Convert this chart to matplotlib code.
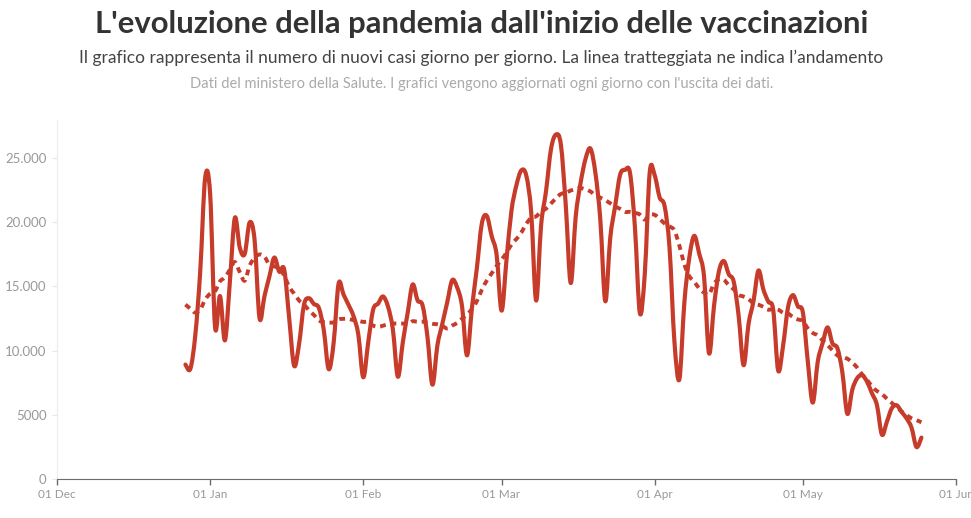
import numpy as np
import pandas as pd
import matplotlib
matplotlib.use('agg')
import matplotlib.pyplot as plt
import matplotlib.dates as mdates
from matplotlib.path import Path
from matplotlib.patches import PathPatch

# Nuovi casi giornalieri, dal 27 dicembre 2020 al 25 maggio 2021
primo_giorno = '2020-12-27'
casi_dic = [8913, 8585, 11212, 16202, 23477]
casi_gen = [22211, 11831, 14245, 10800, 15378, 20331, 18020, 17533, 19978,
            18627, 12532, 14242, 15774, 17246, 16146, 16310, 12545, 8825,
            10497, 13571, 14078, 13633, 13331, 11629, 8561, 10593, 15204,
            14372, 13574, 12715, 11252]
casi_feb = [7925, 10630, 13189, 13659, 14218, 13442, 11641, 7970, 10630,
            12956, 15146, 13908, 13532, 11068, 7351, 10386, 12074, 13762,
            15479, 14931, 13452, 9630, 13314, 16424, 19886, 20499, 18916,
            17455]
casi_mar = [13114, 17083, 20884, 22865, 24036, 23641, 20765, 13902, 19749,
            22409, 25673, 26824, 26062, 21315, 15267, 20396, 23059, 24935,
            25735, 23832, 20159, 13846, 18765, 21267, 23696, 24076, 23839,
            19611, 12916, 16017, 23904]
casi_apr = [23649, 21932, 21261, 18025, 10680, 7767, 13708, 17221, 18938,
            17567, 15746, 9789, 13447, 16168, 16974, 15943, 15370, 12694,
            8864, 12074, 13844, 16232, 14761, 13817, 13158, 8444, 10404,
            13385, 14320, 13446]
casi_mag = [12965, 9148, 5948, 9116, 10585, 11807, 10554, 10176, 8292, 5080,
            6946, 7852, 8085, 7567, 6659, 5753, 3455, 4452, 5506, 5741, 5218,
            4717, 3995, 2490, 3224]
# sei giorni prima del grafico, usati solo per la media mobile
casi_prima = [10872, 13318, 14522, 18040, 19037, 10407]

tick_x = ['2020-12-01', '2021-01-01', '2021-02-01', '2021-03-01',
          '2021-04-01', '2021-05-01', '2021-06-01']
etichette_x = ['01 Dec', '01 Jan', '01 Feb', '01 Mar', '01 Apr', '01 May',
               '01 Jun']
tick_y = [0, 5000, 10000, 15000, 20000, 25000]
etichette_y = ['0', '5000', '10.000', '15.000', '20.000', '25.000']

ROSSO = '#c73b2b'


def curva_liscia(x, y):
    # Catmull-Rom trasformata in segmenti di Bezier cubiche
    p = np.column_stack([x, y])
    pe = np.vstack([p[0], p, p[-1]])
    verts = [p[0]]
    codes = [Path.MOVETO]
    for i in range(len(p) - 1):
        p0, p1, p2, p3 = pe[i], pe[i + 1], pe[i + 2], pe[i + 3]
        verts += [p1 + (p2 - p0) / 6, p2 - (p3 - p1) / 6, p2]
        codes += [Path.CURVE4] * 3
    return Path(verts, codes)


casi = casi_dic + casi_gen + casi_feb + casi_mar + casi_apr + casi_mag
giorni = pd.date_range(primo_giorno, periods=len(casi), freq='D')
media = pd.Series(casi_prima + casi).rolling(7).mean().to_numpy()[6:]
x = mdates.date2num(giorni)

fig = plt.figure(figsize=(9.71, 5.18), dpi=100)
ax = fig.add_axes((57 / 971, 1 - 479 / 518, 899 / 971, 359 / 518))

ax.add_patch(PathPatch(curva_liscia(x, np.array(casi, float)), fill=False,
                       edgecolor=ROSSO, lw=3.0, capstyle='round',
                       joinstyle='round'))
ax.add_patch(PathPatch(curva_liscia(x, media), fill=False, edgecolor=ROSSO,
                       lw=2.8, linestyle=(0, (1.5, 1.25)), capstyle='butt'))

ax.set_xlim(pd.Timestamp(tick_x[0]), pd.Timestamp(tick_x[-1]))
ax.set_ylim(0, 27960)

ax.set_xticks(pd.to_datetime(tick_x))
ax.set_xticklabels(etichette_x)
ax.set_yticks(tick_y)
ax.set_yticklabels(etichette_y)

for lato in ['top', 'right']:
    ax.spines[lato].set_visible(False)
ax.spines['left'].set_color('#ececec')
ax.spines['bottom'].set_color('#6b6b6b')
ax.tick_params(axis='x', length=4, width=1, color='#6b6b6b', pad=3,
               labelsize=8.5, labelcolor='#999999')
ax.tick_params(axis='y', length=3.5, width=0.8, color='#e6e6e6', pad=4,
               labelsize=9.5, labelcolor='#999999')
for lab in ax.get_xticklabels() + ax.get_yticklabels():
    lab.set_family('Lato')

fig.text(0.496, 1 - 24 / 518, "L'evoluzione della pandemia dall'inizio delle "
         "vaccinazioni", ha='center', va='center', family='Lato',
         fontweight='bold', fontsize=22.3, color='#333333')
fig.text(0.496, 1 - 58 / 518, "Il grafico rappresenta il numero di nuovi casi "
         "giorno per giorno. La linea tratteggiata ne indica l\u2019andamento",
         ha='center', va='center', family='Lato', fontsize=12.5,
         color='#444444')
fig.text(0.496, 1 - 84 / 518, "Dati del ministero della Salute. I grafici "
         "vengono aggiornati ogni giorno con l'uscita dei dati.",
         ha='center', va='center', family='Lato', fontsize=10.5,
         color='#aaaaaa')

fig.savefig('out.png', dpi=100)
